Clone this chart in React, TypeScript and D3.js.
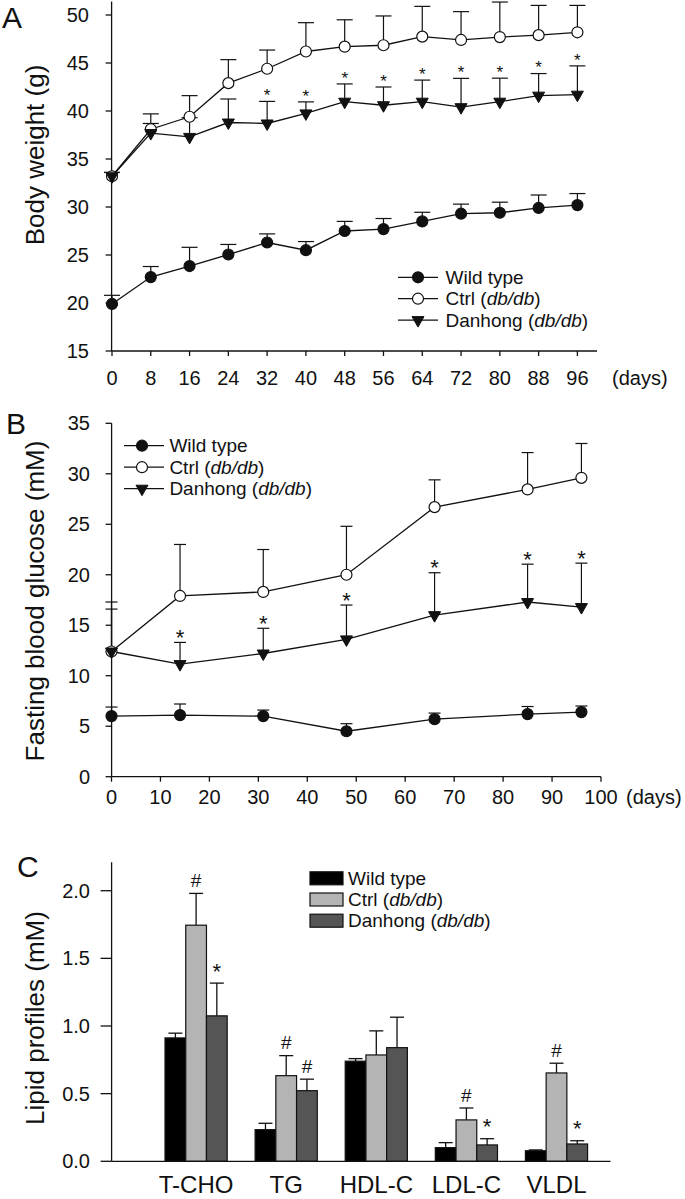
import React from "react";
import * as d3 from "d3";

// ---------- Panel A: body weight ----------
const daysA = [0, 8, 16, 24, 32, 40, 48, 56, 64, 72, 80, 88, 96];
const wtA = [19.9, 22.7, 23.85, 25.05, 26.3, 25.5, 27.5, 27.7, 28.5, 29.3, 29.4, 29.9, 30.2];
const wtAErr = [0.9, 1.1, 1.95, 1.05, 0.9, 0.9, 1.0, 1.1, 0.95, 1.0, 1.1, 1.35, 1.2];
const ctrlA = [33.2, 38.1, 39.4, 42.9, 44.4, 46.2, 46.7, 46.85, 47.75, 47.4, 47.7, 47.9, 48.2];
const ctrlAErr = [0.4, 1.6, 2.2, 2.45, 1.95, 3.0, 2.8, 3.05, 3.15, 2.95, 3.65, 3.1, 2.8];
const danA = [33.2, 37.7, 37.3, 38.8, 38.7, 39.75, 40.97, 40.6, 40.97, 40.4, 40.97, 41.6, 41.7];
const danAErr = [0.4, 1.0, 2.0, 2.45, 2.3, 1.2, 1.85, 1.9, 2.25, 3.0, 2.45, 2.3, 3.0];
const starsA = [false, false, false, false, true, true, true, true, true, true, true, true, true];
const ticksAY = [15, 20, 25, 30, 35, 40, 45, 50];

// ---------- Panel B: fasting blood glucose ----------
const daysB = [0, 14, 31, 48, 66, 85, 96];
const wtB = [6.0, 6.1, 6.0, 4.5, 5.7, 6.2, 6.4];
const wtBErr = [0.9, 1.1, 0.6, 0.75, 0.6, 0.75, 0.6];
const ctrlB = [12.4, 17.9, 18.3, 20.0, 26.7, 28.45, 29.6];
const ctrlBErr = [4.9, 5.1, 4.2, 4.8, 2.7, 3.65, 3.4];
const danB = [12.4, 11.15, 12.2, 13.6, 16.0, 17.3, 16.8];
const danBErr = [4.2, 2.15, 2.5, 3.4, 4.2, 3.75, 4.35];
const starsB = [false, true, true, true, true, true, true];
const ticksBX = [0, 10, 20, 30, 40, 50, 60, 70, 80, 90, 100];
const ticksBY = [0, 5, 10, 15, 20, 25, 30, 35];

// ---------- Panel C: lipid profiles ----------
const lipidCats = ["T-CHO", "TG", "HDL-C", "LDL-C", "VLDL"];
const wtC = [0.912, 0.234, 0.74, 0.101, 0.078];
const wtCErr = [0.035, 0.047, 0.019, 0.037, 0.006];
const ctrlC = [1.745, 0.633, 0.786, 0.306, 0.653];
const ctrlCErr = [0.235, 0.148, 0.178, 0.088, 0.072];
const danC = [1.075, 0.522, 0.84, 0.121, 0.128];
const danCErr = [0.242, 0.085, 0.225, 0.046, 0.024];
const ctrlMarkC = ["#", "#", "", "#", "#"];
const danMarkC = ["*", "#", "", "*", "*"];
const ticksCY = [0, 0.5, 1.0, 1.5, 2.0];

const groupNames = ["Wild type", "Ctrl", "Danhong"];
const barColors = ["#000000", "#b4b4b4", "#555555"];

const FONT = "'Liberation Sans', Arial, Helvetica, sans-serif";
const INK = "#111";

function Tri({ cx, cy }: { cx: number; cy: number }) {
  return (
    <path
      d={`M${cx - 6},${cy - 3.5}L${cx + 6},${cy - 3.5}L${cx},${cy + 7}Z`}
      fill={INK}
      stroke={INK}
      strokeWidth={1}
    />
  );
}

function Marker({ kind, cx, cy }: { kind: number; cx: number; cy: number }) {
  if (kind === 0) return <circle cx={cx} cy={cy} r={5.5} fill={INK} stroke={INK} strokeWidth={1.2} />;
  if (kind === 1) return <circle cx={cx} cy={cy} r={5.5} fill="#fff" stroke={INK} strokeWidth={1.2} />;
  return <Tri cx={cx} cy={cy} />;
}

function LegendLabel({ name, x, y }: { name: string; x: number; y: number }) {
  return (
    <text x={x} y={y} dy="0.35em" fontSize={19} fontFamily={FONT} fill={INK}>
      {name === "Wild type" ? (
        "Wild type"
      ) : (
        <>
          {name + " ("}
          <tspan fontStyle="italic">db/db</tspan>
          {")"}
        </>
      )}
    </text>
  );
}

function LinePanel(props: {
  xs: number[];
  series: number[][];
  errs: number[][];
  stars: boolean[];
  x: d3.ScaleLinear<number, number>;
  y: d3.ScaleLinear<number, number>;
  cap: number;
  starSize: number;
  starGap: number;
}) {
  const { xs, series, errs, stars, x, y, cap, starSize, starGap } = props;
  const line = d3
    .line<number>()
    .x((_, i) => x(xs[i]))
    .y((d) => y(d));
  return (
    <g>
      {series.map((s, k) =>
        s.map((v, i) => {
          const top = y(v + errs[k][i]);
          return (
            <g key={`e${k}-${i}`} stroke={INK} strokeWidth={1.2}>
              <line x1={x(xs[i])} x2={x(xs[i])} y1={y(v)} y2={top} />
              <line x1={x(xs[i]) - cap} x2={x(xs[i]) + cap} y1={top} y2={top} />
            </g>
          );
        })
      )}
      {series.map((s, k) => (
        <path key={`l${k}`} d={line(s) || ""} fill="none" stroke={INK} strokeWidth={1.3} />
      ))}
      {series.map((s, k) =>
        s.map((v, i) => <Marker key={`m${k}-${i}`} kind={k} cx={x(xs[i])} cy={y(v)} />)
      )}
      {stars.map((st, i) =>
        st ? (
          <text
            key={`s${i}`}
            x={x(xs[i])}
            y={y(series[2][i] + errs[2][i]) - starGap + 0.57 * starSize}
            textAnchor="middle"
            fontSize={starSize}
            fontFamily={FONT}
            fill={INK}
          >
            *
          </text>
        ) : null
      )}
    </g>
  );
}

export default function App() {
  // Panel A scales
  const xA = d3.scaleLinear().domain([0, 96]).range([112, 577.4]);
  const yA = d3.scaleLinear().domain([15, 50]).range([351, 15]);
  // Panel B scales
  const xB = d3.scaleLinear().domain([0, 100]).range([111.5, 601]);
  const yB = d3.scaleLinear().domain([0, 35]).range([776.7, 423.3]);
  // Panel C scales
  const xC = d3
    .scaleBand<string>()
    .domain(lipidCats)
    .range([137, 615.6])
    .paddingInner(0.31)
    .paddingOuter(0.311);
  const yC = d3.scaleLinear().domain([0, 2]).range([1161.3, 890.7]);
  const bw = xC.bandwidth() / 3;
  const cValues = [wtC, ctrlC, danC];
  const cErrs = [wtCErr, ctrlCErr, danCErr];

  const axisX0 = 111.6;

  return (
    <svg
      width={685}
      height={1199}
      style={{ position: "absolute", left: 0, top: 0, background: "#fff" }}
      fontFamily={FONT}
    >
      <rect width={685} height={1199} fill="#fff" />

      {/* ===== Panel A ===== */}
      <text x={2} y={28} fontSize={30} fill={INK}>A</text>
      <g stroke={INK} strokeWidth={1.3}>
        <line x1={axisX0} x2={axisX0} y1={yA(15)} y2={yA(51.4)} />
        <line x1={axisX0} x2={597} y1={yA(15)} y2={yA(15)} />
        {ticksAY.map((t) => (
          <line key={t} x1={axisX0 - 6} x2={axisX0} y1={yA(t)} y2={yA(t)} />
        ))}
        {daysA.map((t) => (
          <line key={t} x1={xA(t)} x2={xA(t)} y1={yA(15)} y2={yA(15) + 5} />
        ))}
      </g>
      {ticksAY.map((t) => (
        <text key={t} x={89} y={yA(t)} dy="0.35em" textAnchor="end" fontSize={20} fill={INK}>
          {t}
        </text>
      ))}
      {daysA.map((t) => (
        <text key={t} x={xA(t)} y={384.5} textAnchor="middle" fontSize={20} fill={INK}>
          {t}
        </text>
      ))}
      <text x={612} y={384.5} fontSize={20} fill={INK}>(days)</text>
      <text
        transform="translate(44,155) rotate(-90)"
        textAnchor="middle"
        fontSize={26}
        fill={INK}
      >
        Body weight (g)
      </text>
      <LinePanel
        xs={daysA}
        series={[wtA, ctrlA, danA]}
        errs={[wtAErr, ctrlAErr, danAErr]}
        stars={starsA}
        x={xA}
        y={yA}
        cap={8}
        starSize={17}
        starGap={10}
      />
      {groupNames.map((g, k) => {
        const ly = 277.3 + k * 21.4;
        return (
          <g key={g}>
            <line x1={398} x2={438} y1={ly} y2={ly} stroke={INK} strokeWidth={1.3} />
            <Marker kind={k} cx={418} cy={ly} />
            <LegendLabel name={g} x={445.5} y={ly} />
          </g>
        );
      })}

      {/* ===== Panel B ===== */}
      <text x={6} y={434} fontSize={30} fill={INK}>B</text>
      <g stroke={INK} strokeWidth={1.3}>
        <line x1={axisX0} x2={axisX0} y1={yB(0)} y2={yB(35)} />
        <line x1={axisX0} x2={xB(100)} y1={yB(0)} y2={yB(0)} />
        {ticksBY.map((t) => (
          <line key={t} x1={axisX0 - 6} x2={axisX0} y1={yB(t)} y2={yB(t)} />
        ))}
        {ticksBX.map((t) => (
          <line key={t} x1={xB(t)} x2={xB(t)} y1={yB(0)} y2={yB(0) + 5} />
        ))}
      </g>
      {ticksBY.map((t) => (
        <text key={t} x={90} y={yB(t)} dy="0.35em" textAnchor="end" fontSize={20} fill={INK}>
          {t}
        </text>
      ))}
      {ticksBX.map((t) => (
        <text key={t} x={xB(t)} y={803.5} textAnchor="middle" fontSize={20} fill={INK}>
          {t}
        </text>
      ))}
      <text x={626} y={803.5} fontSize={20} fill={INK}>(days)</text>
      <text
        transform="translate(44,601) rotate(-90)"
        textAnchor="middle"
        fontSize={26}
        fill={INK}
      >
        Fasting blood glucose (mM)
      </text>
      <LinePanel
        xs={daysB}
        series={[wtB, ctrlB, danB]}
        errs={[wtBErr, ctrlBErr, danBErr]}
        stars={starsB}
        x={xB}
        y={yB}
        cap={6}
        starSize={22}
        starGap={10}
      />
      {groupNames.map((g, k) => {
        const ly = 445.7 + k * 21.5;
        return (
          <g key={g}>
            <line x1={124} x2={164} y1={ly} y2={ly} stroke={INK} strokeWidth={1.3} />
            <Marker kind={k} cx={142} cy={ly} />
            <LegendLabel name={g} x={169.4} y={ly} />
          </g>
        );
      })}

      {/* ===== Panel C ===== */}
      <text x={17} y={877} fontSize={30} fill={INK}>C</text>
      {lipidCats.map((c, i) =>
        cValues.map((vals, k) => {
          const x0 = (xC(c) as number) + k * bw;
          const v = vals[i];
          const top = yC(v + cErrs[k][i]);
          const cx = x0 + bw / 2;
          return (
            <g key={`${c}-${k}`}>
              <line x1={cx} x2={cx} y1={yC(v)} y2={top} stroke={INK} strokeWidth={1.3} />
              <line x1={cx - 7} x2={cx + 7} y1={top} y2={top} stroke={INK} strokeWidth={1.3} />
              <rect
                x={x0}
                y={yC(v)}
                width={bw}
                height={yC(0) - yC(v)}
                fill={barColors[k]}
                stroke={INK}
                strokeWidth={1.2}
              />
            </g>
          );
        })
      )}
      {lipidCats.map((c, i) =>
        [ctrlMarkC[i], danMarkC[i]].map((m, j) => {
          if (!m) return null;
          const k = j + 1;
          const cx = (xC(c) as number) + k * bw + bw / 2;
          const top = yC(cValues[k][i] + cErrs[k][i]);
          const isStar = m === "*";
          const fs = isStar ? 22 : 19;
          const centerY = top - (isStar ? 17 : 13);
          const baseY = isStar ? centerY + 0.57 * fs : centerY + 0.35 * fs;
          return (
            <text key={`${c}-m${k}`} x={cx} y={baseY} textAnchor="middle" fontSize={fs} fill={INK}>
              {m}
            </text>
          );
        })
      )}
      <g stroke={INK} strokeWidth={1.3}>
        <line x1={axisX0} x2={axisX0} y1={yC(0)} y2={yC(2.21)} />
        <line x1={axisX0} x2={610.5} y1={yC(0)} y2={yC(0)} />
        {ticksCY.map((t) => (
          <line key={t} x1={axisX0 - 11} x2={axisX0} y1={yC(t)} y2={yC(t)} />
        ))}
      </g>
      {ticksCY.map((t) => (
        <text key={t} x={90} y={yC(t)} dy="0.35em" textAnchor="end" fontSize={20} fill={INK}>
          {d3.format(".1f")(t)}
        </text>
      ))}
      {lipidCats.map((c) => (
        <text
          key={c}
          x={(xC(c) as number) + xC.bandwidth() / 2}
          y={1193}
          textAnchor="middle"
          fontSize={24}
          fill={INK}
        >
          {c}
        </text>
      ))}
      <text
        transform="translate(44,1018) rotate(-90)"
        textAnchor="middle"
        fontSize={26}
        fill={INK}
      >
        Lipid profiles (mM)
      </text>
      {groupNames.map((g, k) => {
        const ly = 878.3 + k * 21.2;
        return (
          <g key={g}>
            <rect x={310} y={ly - 6.5} width={33} height={13} fill={barColors[k]} stroke={INK} strokeWidth={1.2} />
            <LegendLabel name={g} x={348} y={ly} />
          </g>
        );
      })}
    </svg>
  );
}
